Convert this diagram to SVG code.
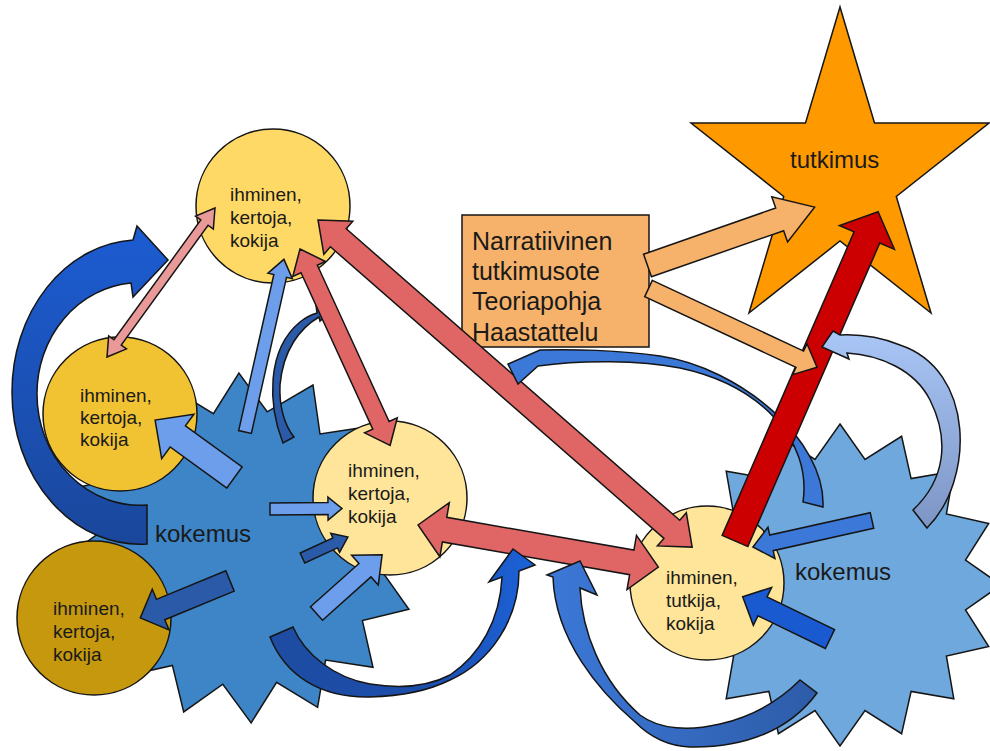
<svg xmlns="http://www.w3.org/2000/svg" width="990" height="751" viewBox="0 0 990 751">
<defs>
<style>
.o{stroke:#151515;stroke-width:1.5;stroke-linejoin:miter}
.t{font-family:"Liberation Sans",Arial,sans-serif;fill:#1a1a1a}
.c{font-size:19px}
.red{fill:#E06666}
.lb{fill:#6D9EEB}
.db{fill:#2B5BA8}
.or{fill:#F6B26B}
</style>
<linearGradient id="gC1" x1="0" y1="0" x2="0" y2="1"><stop offset="0" stop-color="#1C5CD2"/><stop offset="1" stop-color="#1A479C"/></linearGradient>
<linearGradient id="gC3" x1="0" y1="0" x2="1" y2="0"><stop offset="0" stop-color="#1E4CA2"/><stop offset="0.55" stop-color="#1B4DAA"/><stop offset="1" stop-color="#1C62DA"/></linearGradient>
<linearGradient id="gC4" x1="0" y1="0" x2="1" y2="0"><stop offset="0" stop-color="#3C78D8"/><stop offset="1" stop-color="#2D5CA8"/></linearGradient>
<linearGradient id="gC6" x1="0" y1="0" x2="0" y2="1"><stop offset="0" stop-color="#A8C6F6"/><stop offset="1" stop-color="#7D95C4"/></linearGradient>
</defs>
<rect width="990" height="751" fill="#ffffff"/>

<g id="kokemus-left">
<polygon class="o" fill="#3D85C6" points="251.1,722.9 222.8,684.2 183.7,711.9 172.4,665.4 125.7,676 133,628.6 85.7,620.6 110.7,579.6 70.1,554.1 108.8,525.8 81.1,486.7 127.6,475.4 117,428.7 164.4,436 172.4,388.7 213.4,413.7 238.9,373.1 267.2,411.8 313,385 320,434 360,428 357,467.4 404.3,475.4 379.3,516.4 419.9,541.9 381.2,570.2 408.9,609.3 362.4,620.6 373,667.3 325.6,660 317.6,707.3 276.6,682.3"/>
<text class="t" x="155" y="542" font-size="24">kokemus</text>
</g>

<g id="kokemus-right">
<polygon class="o" fill="#6FA8DC" points="840,424 865,459.5 901.6,436.3 911.1,478.6 953.8,471.2 946.4,513.9 988.7,523.4 965.5,560 1001,585 965.5,610 988.7,646.6 946.4,656.1 953.8,698.8 911.1,691.4 901.6,733.7 865,710.5 840,746 815,710.5 778.4,733.7 768.9,691.4 726.2,698.8 733.6,656.1 691.3,646.6 714.5,610 679,585 714.5,560 691.3,523.4 733.6,513.9 726.2,471.2 768.9,478.6 778.4,436.3 815,459.5"/>
<text class="t" x="795" y="580" font-size="24">kokemus</text>
</g>

<g id="person-top">
<circle class="o" cx="273" cy="206" r="77" fill="#FFD966"/>
<text class="t c" x="230" y="201">ihminen,</text>
<text class="t c" x="230" y="224">kertoja,</text>
<text class="t c" x="230" y="247">kokija</text>
</g>

<g id="person-left">
<circle class="o" cx="120" cy="414" r="77" fill="#F1C232"/>
<text class="t c" x="80" y="402">ihminen,</text>
<text class="t c" x="80" y="424">kertoja,</text>
<text class="t c" x="80" y="446">kokija</text>
</g>

<g id="person-bottom-left">
<circle class="o" cx="94" cy="618" r="77" fill="#C5980E"/>
<text class="t c" x="53" y="615">ihminen,</text>
<text class="t c" x="53" y="638">kertoja,</text>
<text class="t c" x="53" y="661">kokija</text>
</g>

<g id="person-middle">
<circle class="o" cx="390" cy="498" r="77" fill="#FFE599"/>
<text class="t c" x="348" y="477">ihminen,</text>
<text class="t c" x="348" y="500">kertoja,</text>
<text class="t c" x="348" y="523">kokija</text>
</g>

<g id="person-researcher">
<circle class="o" cx="707" cy="583" r="77" fill="#FFE599"/>
<text class="t c" x="666" y="584">ihminen,</text>
<text class="t c" x="666" y="607">tutkija,</text>
<text class="t c" x="666" y="630">kokija</text>
</g>

<g id="method-box">
<rect class="o" x="462" y="215" width="187" height="132" fill="#F6B26B"/>
<text class="t" x="472" y="250" font-size="25">Narratiivinen</text>
<text class="t" x="472" y="280" font-size="25">tutkimusote</text>
<text class="t" x="472" y="310" font-size="25">Teoriapohja</text>
<text class="t" x="472" y="341" font-size="25">Haastattelu</text>
</g>

<g id="tutkimus-star">
<polygon class="o" fill="#FF9900" points="840,7 805.5,123 691,123 783.7,196.4 749,313 840,241 931,313 896.3,196.4 989,123 874.5,123"/>
<text class="t" x="790" y="168" font-size="24">tutkimus</text>
</g>

<g id="connectors">
<!-- big left curved arrow -->
<path class="o" fill="url(#gC1)" d="M147,544 A128,152 0 0 1 12,392 A128,152 0 0 1 133,240 L137,226 L168,260 L133,297 L131,283 A103,111 0 0 0 37,394 A103,111 0 0 0 147,505 Z"/>
<!-- small dark curved arrow -->
<path class="o db" d="M283,443 C268,405 266,350 300,322 C305,318 310,315 317,313 L316,305 L332,310 L320,321 L319,317 C300,328 283,350 280,385 C279,405 284,425 294,437 Z"/>
<!-- pink double arrow -->
<polygon class="o" fill="#EA9999" transform="translate(107,357) rotate(-54.06)" points="0,0 18,-11 18,-4.5 166,-4.5 166,-11 184,0 166,11 166,4.5 18,4.5 18,11"/>
<!-- red double arrows -->
<polygon class="o red" transform="translate(318,220) rotate(41.16)" points="0,0 27,-22 27,-12 470,-12 470,-22 497,0 470,22 470,12 27,12 27,22"/>
<polygon class="o red" transform="translate(300,249) rotate(65.34)" points="0,0 22,-18 22,-9 194,-9 194,-18 216,0 194,18 194,9 22,9 22,18"/>
<polygon class="o red" transform="translate(418,525) rotate(9.93)" points="0,0 27,-27.5 27,-12.5 217,-12.5 217,-27.5 244,0 217,27.5 217,12.5 27,12.5 27,27.5"/>
<!-- light blue arrows from left experience -->
<polygon class="o lb" transform="translate(245,432) rotate(-77.3)" points="0,-6.5 160,-6.5 160,-12.5 177,0 160,12.5 160,6.5 0,6.5"/>
<polygon class="o lb" transform="translate(234.5,477.5) rotate(-144.1)" points="0,-13 70,-13 70,-27.5 98,0 70,27.5 70,13 0,13"/>
<polygon class="o lb" transform="translate(270,509) rotate(-0.4)" points="0,-6 58,-6 58,-11.5 72,0 58,11.5 58,6 0,6"/>
<polygon class="o lb" transform="translate(316.5,613.5) rotate(-41.8)" points="0,-9 65,-9 65,-20 88,0 65,20 65,9 0,9"/>
<!-- dark blue arrows -->
<polygon class="o db" transform="translate(302.5,558) rotate(-24.8)" points="0,-5.5 36,-5.5 36,-10.5 50,0 36,10.5 36,5.5 0,5.5"/>
<polygon class="o db" transform="translate(230,581) rotate(157.65)" points="0,-11 75,-11 75,-22 97,0 75,22 75,11 0,11"/>
<!-- bottom curved arrows -->
<path class="o" fill="url(#gC3)" d="M270,637 C285,675 320,698 370,697 C405,696 430,690 450,680 C490,662 519,620 519,571 L535,565 L513,549 L489,582 L502,577 C500,620 480,655 450,675 C425,688 395,688 370,684 C335,678 305,655 293,627 Z"/>
<path class="o" fill="url(#gC4)" d="M817,693 C790,730 745,748 690,747 C665,746 648,735 635,722 C600,692 555,640 553,577 L547,575 L580,561 L597,595 L580,588 C582,630 600,680 640,715 C660,730 690,731 720,724 C755,716 780,700 800,680 Z"/>
<!-- arc from right experience to method box -->
<path class="o" fill="#3C78D8" d="M823,507 C826,440 740,368 660,356 C620,350 570,349 540,350 L508,364 L518,384 L538,366 C580,360 640,360 680,368 C760,385 812,440 803,502 Z"/>
<!-- right experience arrows -->
<polygon class="o" fill="#3C78D8" transform="translate(872,520.5) rotate(167.45)" points="0,-8 103,-8 103,-16 122,0 103,16 103,8 0,8"/>
<polygon class="o" fill="#1A5AD0" transform="translate(830,639) rotate(-154.2)" points="0,-10.5 75,-10.5 75,-21 97,0 75,21 75,10.5 0,10.5"/>
<!-- red arrow to tutkimus -->
<polygon class="o" fill="#CC0000" transform="translate(735,541) rotate(-66.51)" points="0,-14 331,-14 331,-30 359,0 331,30 331,14 0,14"/>
<!-- orange arrows from method box -->
<polygon class="o or" transform="translate(647.5,265.5) rotate(-19.25)" points="0,-12 140,-12 140,-24 177,0 140,24 140,12 0,12"/>
<polygon class="o or" transform="translate(648.5,288.5) rotate(25.05)" points="0,-9 167,-9 167,-17 186,0 167,17 167,9 0,9"/>
<!-- light blue curved arrow on right -->
<path class="o" fill="url(#gC6)" d="M927,528 C975,480 975,370 900,345 C880,337 860,334 840,335 L833,331 L822,347 L849,359 L847,353 C880,355 915,370 930,400 C950,440 945,480 913,510 Z"/>
</g>
</svg>
